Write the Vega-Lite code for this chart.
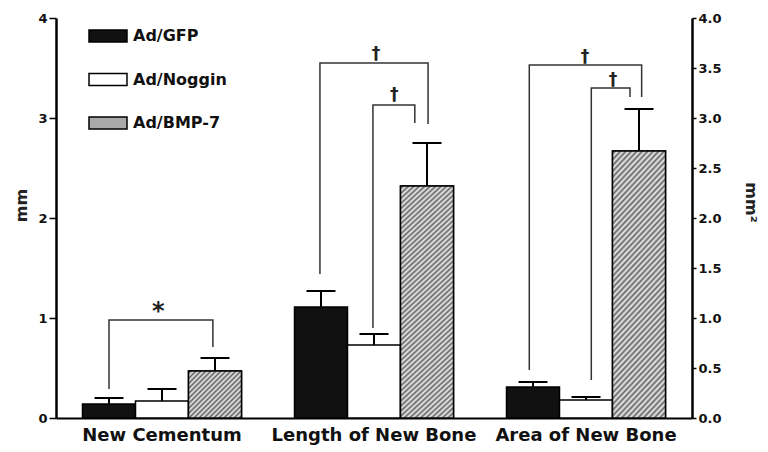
{
  "$schema": "https://vega.github.io/schema/vega-lite/v6.json",
  "width": 636,
  "height": 400,
  "autosize": {"type": "none"},
  "padding": {"left": 56, "top": 18, "right": 76, "bottom": 34},
  "background": "white",
  "config": {
    "view": {"stroke": null},
    "axis": {"grid": false},
    "axisX": {"labelAngle": 0, "domainWidth": 2, "domainColor": "#000", "ticks": false, "labelFont": "DejaVu Sans", "labelFontSize": 18, "labelFontWeight": "bold", "labelColor": "#111", "labelPadding": 8, "labelLimit": 0}
  },
  "datasets": {
    "bars": [
      {"group": "New Cementum", "treatment": "Ad/GFP", "mean": 0.14, "upper": 0.20},
      {"group": "New Cementum", "treatment": "Ad/Noggin", "mean": 0.17, "upper": 0.29},
      {"group": "New Cementum", "treatment": "Ad/BMP-7", "mean": 0.47, "upper": 0.60},
      {"group": "Length of New Bone", "treatment": "Ad/GFP", "mean": 1.11, "upper": 1.27},
      {"group": "Length of New Bone", "treatment": "Ad/Noggin", "mean": 0.73, "upper": 0.84},
      {"group": "Length of New Bone", "treatment": "Ad/BMP-7", "mean": 2.32, "upper": 2.75},
      {"group": "Area of New Bone", "treatment": "Ad/GFP", "mean": 0.31, "upper": 0.36},
      {"group": "Area of New Bone", "treatment": "Ad/Noggin", "mean": 0.18, "upper": 0.21},
      {"group": "Area of New Bone", "treatment": "Ad/BMP-7", "mean": 2.67, "upper": 3.09}
    ],
    "brackets": [
      {"bracket": "c1", "group": "New Cementum", "step": 1, "slot": 1.0, "y": 0.29},
      {"bracket": "c1", "group": "New Cementum", "step": 2, "slot": 1.0, "y": 0.98},
      {"bracket": "c1", "group": "New Cementum", "step": 3, "slot": 2.96, "y": 0.98},
      {"bracket": "c1", "group": "New Cementum", "step": 4, "slot": 2.96, "y": 0.71},
      {"bracket": "l1", "group": "Length of New Bone", "step": 1, "slot": 0.98, "y": 1.44},
      {"bracket": "l1", "group": "Length of New Bone", "step": 2, "slot": 0.98, "y": 3.55},
      {"bracket": "l1", "group": "Length of New Bone", "step": 3, "slot": 3.02, "y": 3.55},
      {"bracket": "l1", "group": "Length of New Bone", "step": 4, "slot": 3.02, "y": 2.94},
      {"bracket": "l2", "group": "Length of New Bone", "step": 1, "slot": 1.98, "y": 0.90},
      {"bracket": "l2", "group": "Length of New Bone", "step": 2, "slot": 1.98, "y": 3.13},
      {"bracket": "l2", "group": "Length of New Bone", "step": 3, "slot": 2.77, "y": 3.13},
      {"bracket": "l2", "group": "Length of New Bone", "step": 4, "slot": 2.77, "y": 2.95},
      {"bracket": "a1", "group": "Area of New Bone", "step": 1, "slot": 0.93, "y": 0.48},
      {"bracket": "a1", "group": "Area of New Bone", "step": 2, "slot": 0.93, "y": 3.53},
      {"bracket": "a1", "group": "Area of New Bone", "step": 3, "slot": 3.05, "y": 3.53},
      {"bracket": "a1", "group": "Area of New Bone", "step": 4, "slot": 3.05, "y": 3.21},
      {"bracket": "a2", "group": "Area of New Bone", "step": 1, "slot": 2.1, "y": 0.38},
      {"bracket": "a2", "group": "Area of New Bone", "step": 2, "slot": 2.1, "y": 3.30},
      {"bracket": "a2", "group": "Area of New Bone", "step": 3, "slot": 2.83, "y": 3.30},
      {"bracket": "a2", "group": "Area of New Bone", "step": 4, "slot": 2.83, "y": 3.21}
    ],
    "signs": [
      {"group": "New Cementum", "slot": 1.93, "y": 1.06, "sym": "*"},
      {"group": "Length of New Bone", "slot": 2.04, "y": 3.64, "sym": "†"},
      {"group": "Length of New Bone", "slot": 2.38, "y": 3.23, "sym": "†"},
      {"group": "Area of New Bone", "slot": 1.98, "y": 3.61, "sym": "†"},
      {"group": "Area of New Bone", "slot": 2.51, "y": 3.38, "sym": "†"}
    ]
  },
  "resolve": {"scale": {"xOffset": "independent"}, "axis": {"y": "independent"}},
  "layer": [
    {
      "data": {"name": "bars"},
      "mark": {"type": "bar", "strokeWidth": 1.5},
      "encoding": {
        "x": {"field": "group", "type": "nominal", "sort": ["New Cementum", "Length of New Bone", "Area of New Bone"], "scale": {"paddingInner": 0, "paddingOuter": 0}, "title": null},
        "xOffset": {"field": "treatment", "type": "nominal", "scale": {"domain": ["Ad/GFP", "Ad/Noggin", "Ad/BMP-7"], "paddingInner": 0, "paddingOuter": 0.5}},
        "y": {"field": "mean", "type": "quantitative", "scale": {"domain": [0, 4], "nice": false},
          "axis": {"orient": "left", "values": [0, 1, 2, 3, 4], "title": "mm", "titleFont": "DejaVu Sans", "titleFontSize": 16, "titleFontWeight": "bold", "titleColor": "#222", "titleX": -35, "titleY": 187, "titleBaseline": "middle", "labelFont": "DejaVu Sans", "labelFontSize": 13, "labelFontWeight": "bold", "labelColor": "#111", "domainColor": "#000", "domainWidth": 2.5, "tickColor": "#000", "tickWidth": 1.5, "tickSize": 7, "labelPadding": 2}},
        "fill": {"field": "treatment", "type": "nominal", "scale": {"domain": ["Ad/GFP", "Ad/Noggin", "Ad/BMP-7"], "range": ["#111111", "#ffffff", "#aaaaaa"]},
          "legend": {"orient": "none", "legendX": 32, "legendY": -2, "title": null, "padding": 0, "symbolType": "M-1,-0.32H1V0.32H-1Z", "symbolSize": 1444, "symbolStrokeWidth": 1.5, "symbolOpacity": 1, "labelFont": "DejaVu Sans", "labelFontSize": 16, "labelFontWeight": "bold", "labelColor": "#111", "labelOffset": 5, "rowPadding": 13.5}},
        "stroke": {"field": "treatment", "type": "nominal", "scale": {"domain": ["Ad/GFP", "Ad/Noggin", "Ad/BMP-7"], "range": ["#000000", "#000000", "#000000"]},
          "legend": {"orient": "none", "legendX": 32, "legendY": -2, "title": null, "padding": 0, "symbolType": "M-1,-0.32H1V0.32H-1Z", "symbolSize": 1444, "symbolStrokeWidth": 1.5, "symbolOpacity": 1, "labelFont": "DejaVu Sans", "labelFontSize": 16, "labelFontWeight": "bold", "labelColor": "#111", "labelOffset": 5, "rowPadding": 13.5}}
      }
    },
    {
      "data": {"name": "bars"},
      "transform": [{"filter": "datum.treatment === 'Ad/BMP-7' && datum.group === 'New Cementum'"}],
      "mark": {"type": "bar", "stroke": "#000", "strokeWidth": 1.5, "fill": {"gradient": "linear", "x1": 0, "y1": 0, "x2": 1.056, "y2": 0.937, "stops": [
        {"offset": 0, "color": "#eee"}, {"offset": 0.025, "color": "#666"}, {"offset": 0.05, "color": "#eee"}, {"offset": 0.075, "color": "#666"}, {"offset": 0.1, "color": "#eee"}, {"offset": 0.125, "color": "#666"}, {"offset": 0.15, "color": "#eee"}, {"offset": 0.175, "color": "#666"}, {"offset": 0.2, "color": "#eee"}, {"offset": 0.225, "color": "#666"}, {"offset": 0.25, "color": "#eee"}, {"offset": 0.275, "color": "#666"}, {"offset": 0.3, "color": "#eee"}, {"offset": 0.325, "color": "#666"}, {"offset": 0.35, "color": "#eee"}, {"offset": 0.375, "color": "#666"}, {"offset": 0.4, "color": "#eee"}, {"offset": 0.425, "color": "#666"}, {"offset": 0.45, "color": "#eee"}, {"offset": 0.475, "color": "#666"}, {"offset": 0.5, "color": "#eee"}, {"offset": 0.525, "color": "#666"}, {"offset": 0.55, "color": "#eee"}, {"offset": 0.575, "color": "#666"}, {"offset": 0.6, "color": "#eee"}, {"offset": 0.625, "color": "#666"}, {"offset": 0.65, "color": "#eee"}, {"offset": 0.675, "color": "#666"}, {"offset": 0.7, "color": "#eee"}, {"offset": 0.725, "color": "#666"}, {"offset": 0.75, "color": "#eee"}, {"offset": 0.775, "color": "#666"}, {"offset": 0.8, "color": "#eee"}, {"offset": 0.825, "color": "#666"}, {"offset": 0.85, "color": "#eee"}, {"offset": 0.875, "color": "#666"}, {"offset": 0.9, "color": "#eee"}, {"offset": 0.925, "color": "#666"}, {"offset": 0.95, "color": "#eee"}, {"offset": 0.975, "color": "#666"}, {"offset": 1, "color": "#eee"}]}},
      "encoding": {
        "x": {"field": "group", "type": "nominal", "sort": ["New Cementum", "Length of New Bone", "Area of New Bone"], "title": null},
        "xOffset": {"field": "treatment", "type": "nominal", "scale": {"domain": ["Ad/GFP", "Ad/Noggin", "Ad/BMP-7"], "paddingInner": 0, "paddingOuter": 0.5}},
        "y": {"field": "mean", "type": "quantitative", "axis": null}
      }
    },
    {
      "data": {"name": "bars"},
      "transform": [{"filter": "datum.treatment === 'Ad/BMP-7' && datum.group !== 'New Cementum'"}],
      "mark": {"type": "bar", "stroke": "#000", "strokeWidth": 1.5, "fill": {"gradient": "linear", "x1": 0, "y1": 0, "x2": 0.246, "y2": 1.16, "stops": [
        {"offset": 0, "color": "#eee"}, {"offset": 0.009, "color": "#666"}, {"offset": 0.018, "color": "#eee"}, {"offset": 0.027, "color": "#666"}, {"offset": 0.036, "color": "#eee"}, {"offset": 0.045, "color": "#666"}, {"offset": 0.054, "color": "#eee"}, {"offset": 0.063, "color": "#666"}, {"offset": 0.072, "color": "#eee"}, {"offset": 0.081, "color": "#666"},
        {"offset": 0.09, "color": "#eee"}, {"offset": 0.099, "color": "#666"}, {"offset": 0.108, "color": "#eee"}, {"offset": 0.117, "color": "#666"}, {"offset": 0.126, "color": "#eee"}, {"offset": 0.135, "color": "#666"}, {"offset": 0.144, "color": "#eee"}, {"offset": 0.153, "color": "#666"}, {"offset": 0.162, "color": "#eee"}, {"offset": 0.171, "color": "#666"},
        {"offset": 0.18, "color": "#eee"}, {"offset": 0.189, "color": "#666"}, {"offset": 0.198, "color": "#eee"}, {"offset": 0.207, "color": "#666"}, {"offset": 0.216, "color": "#eee"}, {"offset": 0.225, "color": "#666"}, {"offset": 0.234, "color": "#eee"}, {"offset": 0.243, "color": "#666"}, {"offset": 0.252, "color": "#eee"}, {"offset": 0.261, "color": "#666"},
        {"offset": 0.27, "color": "#eee"}, {"offset": 0.279, "color": "#666"}, {"offset": 0.288, "color": "#eee"}, {"offset": 0.297, "color": "#666"}, {"offset": 0.306, "color": "#eee"}, {"offset": 0.315, "color": "#666"}, {"offset": 0.324, "color": "#eee"}, {"offset": 0.333, "color": "#666"}, {"offset": 0.342, "color": "#eee"}, {"offset": 0.351, "color": "#666"},
        {"offset": 0.36, "color": "#eee"}, {"offset": 0.369, "color": "#666"}, {"offset": 0.378, "color": "#eee"}, {"offset": 0.387, "color": "#666"}, {"offset": 0.396, "color": "#eee"}, {"offset": 0.405, "color": "#666"}, {"offset": 0.414, "color": "#eee"}, {"offset": 0.423, "color": "#666"}, {"offset": 0.432, "color": "#eee"}, {"offset": 0.441, "color": "#666"},
        {"offset": 0.45, "color": "#eee"}, {"offset": 0.459, "color": "#666"}, {"offset": 0.468, "color": "#eee"}, {"offset": 0.477, "color": "#666"}, {"offset": 0.486, "color": "#eee"}, {"offset": 0.495, "color": "#666"}, {"offset": 0.504, "color": "#eee"}, {"offset": 0.513, "color": "#666"}, {"offset": 0.522, "color": "#eee"}, {"offset": 0.531, "color": "#666"},
        {"offset": 0.54, "color": "#eee"}, {"offset": 0.549, "color": "#666"}, {"offset": 0.558, "color": "#eee"}, {"offset": 0.567, "color": "#666"}, {"offset": 0.576, "color": "#eee"}, {"offset": 0.585, "color": "#666"}, {"offset": 0.594, "color": "#eee"}, {"offset": 0.603, "color": "#666"}, {"offset": 0.612, "color": "#eee"}, {"offset": 0.621, "color": "#666"},
        {"offset": 0.63, "color": "#eee"}, {"offset": 0.639, "color": "#666"}, {"offset": 0.648, "color": "#eee"}, {"offset": 0.657, "color": "#666"}, {"offset": 0.666, "color": "#eee"}, {"offset": 0.675, "color": "#666"}, {"offset": 0.684, "color": "#eee"}, {"offset": 0.693, "color": "#666"}, {"offset": 0.702, "color": "#eee"}, {"offset": 0.711, "color": "#666"},
        {"offset": 0.72, "color": "#eee"}, {"offset": 0.729, "color": "#666"}, {"offset": 0.738, "color": "#eee"}, {"offset": 0.747, "color": "#666"}, {"offset": 0.756, "color": "#eee"}, {"offset": 0.765, "color": "#666"}, {"offset": 0.774, "color": "#eee"}, {"offset": 0.783, "color": "#666"}, {"offset": 0.792, "color": "#eee"}, {"offset": 0.801, "color": "#666"},
        {"offset": 0.81, "color": "#eee"}, {"offset": 0.819, "color": "#666"}, {"offset": 0.828, "color": "#eee"}, {"offset": 0.837, "color": "#666"}, {"offset": 0.846, "color": "#eee"}, {"offset": 0.855, "color": "#666"}, {"offset": 0.864, "color": "#eee"}, {"offset": 0.873, "color": "#666"}, {"offset": 0.882, "color": "#eee"}, {"offset": 0.891, "color": "#666"},
        {"offset": 0.9, "color": "#eee"}, {"offset": 0.909, "color": "#666"}, {"offset": 0.918, "color": "#eee"}, {"offset": 0.927, "color": "#666"}, {"offset": 0.936, "color": "#eee"}, {"offset": 0.945, "color": "#666"}, {"offset": 0.954, "color": "#eee"}, {"offset": 0.963, "color": "#666"}, {"offset": 0.972, "color": "#eee"}, {"offset": 0.981, "color": "#666"},
        {"offset": 0.99, "color": "#eee"}, {"offset": 0.999, "color": "#666"}]}},
      "encoding": {
        "x": {"field": "group", "type": "nominal", "sort": ["New Cementum", "Length of New Bone", "Area of New Bone"], "title": null},
        "xOffset": {"field": "treatment", "type": "nominal", "scale": {"domain": ["Ad/GFP", "Ad/Noggin", "Ad/BMP-7"], "paddingInner": 0, "paddingOuter": 0.5}},
        "y": {"field": "mean", "type": "quantitative", "axis": null}
      }
    },
    {
      "data": {"name": "bars"},
      "mark": {"type": "rule", "color": "#000", "strokeWidth": 2},
      "encoding": {
        "x": {"field": "group", "type": "nominal", "sort": ["New Cementum", "Length of New Bone", "Area of New Bone"], "title": null},
        "xOffset": {"field": "treatment", "type": "nominal", "scale": {"domain": ["Ad/GFP", "Ad/Noggin", "Ad/BMP-7"], "paddingInner": 0, "paddingOuter": 0.5}},
        "y": {"field": "mean", "type": "quantitative",
          "axis": {"orient": "right", "values": [0, 0.5, 1, 1.5, 2, 2.5, 3, 3.5, 4], "format": ".1f", "title": "mm²", "titleAngle": 90, "titleBaseline": "middle", "titleX": 58, "titleY": 184, "titleFont": "DejaVu Sans", "titleFontSize": 16, "titleFontWeight": "bold", "titleColor": "#222", "labelFont": "DejaVu Sans", "labelFontSize": 13, "labelFontWeight": "bold", "labelColor": "#111", "domainColor": "#000", "domainWidth": 2.5, "tickColor": "#000", "tickWidth": 1.5, "tickSize": 4, "labelPadding": 2}},
        "y2": {"field": "upper"}
      }
    },
    {
      "data": {"name": "bars"},
      "mark": {"type": "tick", "color": "#000", "size": 29, "thickness": 2, "opacity": 1},
      "encoding": {
        "x": {"field": "group", "type": "nominal", "sort": ["New Cementum", "Length of New Bone", "Area of New Bone"], "title": null},
        "xOffset": {"field": "treatment", "type": "nominal", "scale": {"domain": ["Ad/GFP", "Ad/Noggin", "Ad/BMP-7"], "paddingInner": 0, "paddingOuter": 0.5}},
        "y": {"field": "upper", "type": "quantitative", "axis": null}
      }
    },
    {
      "data": {"name": "brackets"},
      "mark": {"type": "line", "color": "#333", "strokeWidth": 1.5},
      "encoding": {
        "x": {"field": "group", "type": "nominal", "sort": ["New Cementum", "Length of New Bone", "Area of New Bone"], "title": null},
        "xOffset": {"field": "slot", "type": "quantitative", "scale": {"domain": [0, 4], "range": [0, 212], "nice": false, "zero": false}},
        "y": {"field": "y", "type": "quantitative", "axis": null},
        "detail": {"field": "bracket", "type": "nominal"},
        "order": {"field": "step", "type": "quantitative"}
      }
    },
    {
      "data": {"name": "signs"},
      "transform": [{"filter": "datum.sym === '*'"}],
      "mark": {"type": "text", "font": "DejaVu Sans", "fontWeight": "bold", "fontSize": 24, "baseline": "middle", "color": "#222"},
      "encoding": {
        "x": {"field": "group", "type": "nominal", "sort": ["New Cementum", "Length of New Bone", "Area of New Bone"], "title": null},
        "xOffset": {"field": "slot", "type": "quantitative", "scale": {"domain": [0, 4], "range": [0, 212], "nice": false, "zero": false}},
        "y": {"field": "y", "type": "quantitative", "axis": null},
        "text": {"field": "sym"}
      }
    },
    {
      "data": {"name": "signs"},
      "transform": [{"filter": "datum.sym !== '*'"}],
      "mark": {"type": "text", "font": "DejaVu Sans", "fontWeight": "bold", "fontSize": 17, "baseline": "middle", "color": "#222"},
      "encoding": {
        "x": {"field": "group", "type": "nominal", "sort": ["New Cementum", "Length of New Bone", "Area of New Bone"], "title": null},
        "xOffset": {"field": "slot", "type": "quantitative", "scale": {"domain": [0, 4], "range": [0, 212], "nice": false, "zero": false}},
        "y": {"field": "y", "type": "quantitative", "axis": null},
        "text": {"field": "sym"}
      }
    }
  ]
}
